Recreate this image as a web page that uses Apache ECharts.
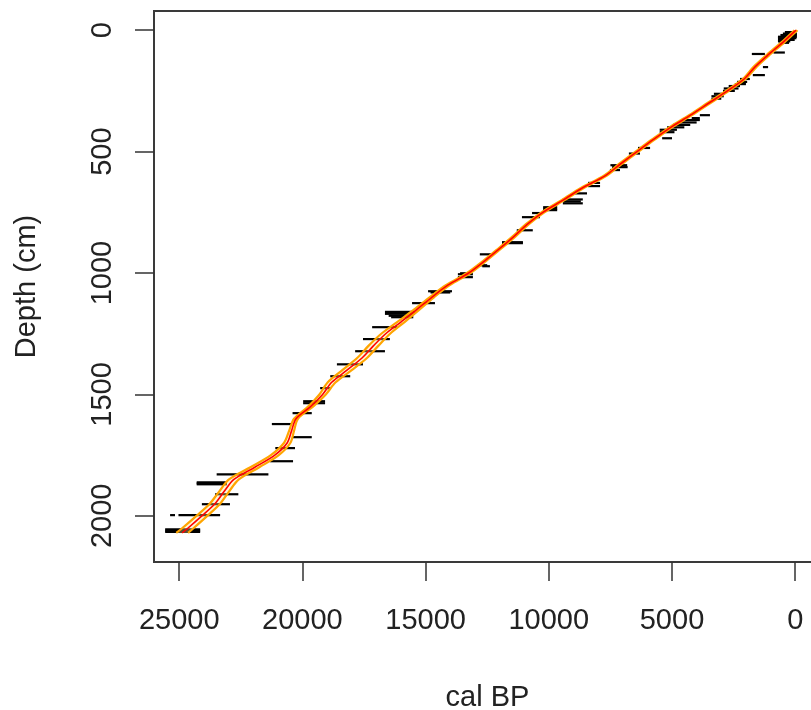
<!DOCTYPE html>
<html>
<head>
<meta charset="utf-8">
<script src="https://cdn.jsdelivr.net/npm/echarts@6/dist/echarts.min.js"></script>
<style>
html,body{margin:0;padding:0;background:#fff;}
#chart{width:811px;height:710px;}
</style>
</head>
<body>
<div id="chart"></div>
<script>
// Age-depth model (depth in cm, cal BP)
var modelDepth = [0,50,100,150,200,250,300,350,400,450,500,550,600,650,700,750,800,850,900,950,1000,1050,1100,1150,1200,1250,1300,1350,1400,1450,1500,1550,1600,1650,1700,1750,1800,1850,1900,1950,2000,2050,2070];
var modelAge = [-30,500,1080,1620,2060,2750,3500,4250,5050,5750,6420,7080,7720,8640,9420,10240,10880,11420,12000,12600,13250,14100,14750,15350,15980,16620,17120,17580,18190,18810,19180,19670,20260,20440,20620,21120,21930,22780,23180,23550,24080,24640,24880];
var modelMin = [-90,440,1020,1560,2000,2690,3440,4190,4990,5690,6360,7020,7660,8580,9360,10180,10820,11360,11940,12540,13180,14020,14660,15240,15830,16440,16920,17380,18000,18650,19050,19570,20180,20340,20490,20960,21750,22580,22980,23340,23860,24410,24640];
var modelMax = [30,560,1140,1680,2120,2810,3560,4310,5110,5810,6480,7140,7780,8700,9480,10300,10940,11480,12060,12660,13320,14180,14840,15460,16130,16800,17320,17780,18380,18970,19310,19770,20340,20540,20750,21280,22110,22980,23380,23760,24300,24870,25120];

// Calibrated date ranges (depth, from, to)
var dateDepth = [8,14,20,27,33,40,46,52,92,98,152,185,201,213,222,230,240,250,262,272,282,350,362,370,380,390,400,410,420,445,485,508,556,564,576,629,642,672,697,705,713,729,735,741,753,770,824,873,877,923,968,972,1001,1005,1017,1075,1080,1124,1160,1168,1176,1182,1223,1272,1322,1376,1425,1474,1528,1536,1577,1622,1676,1721,1775,1829,1862,1866,1870,1911,1952,1997,1997,2056,2061,2066];
var dateFrom = [0,-70,-70,-70,-50,20,200,250,420,1230,1100,1230,1840,1950,2000,2240,2300,2450,2860,2900,3000,3460,3870,3870,4000,4260,4500,4800,4900,5000,5890,6300,6820,6800,7110,7920,7920,8450,8620,8700,8620,9660,9660,9660,10360,10360,10650,11050,11050,12310,12500,12390,13200,13080,13080,13930,14000,14620,15430,15430,15600,15500,16150,16450,16650,17540,18060,18870,19080,19080,19620,20430,19620,20300,20380,21380,23070,23070,23070,22600,22940,23340,25170,24150,24150,24150];
var dateTo = [420,500,600,700,700,700,700,650,880,1760,1310,1720,2240,2360,2450,2700,2900,2930,3300,3400,3400,3870,4200,4560,4700,4960,5200,5500,5500,5400,6380,6750,7500,7430,7520,8410,8410,9020,9430,9400,9430,10230,10230,10230,10680,11090,11300,11900,11900,12800,12900,12700,13600,13690,13690,14900,14800,15550,16650,16650,16500,16400,17170,17540,17860,18600,18870,19280,19970,19970,20400,21240,20400,21100,21310,23480,24290,24290,24290,23540,24080,25030,25370,25570,25570,25570];

var xTicks = [0,5000,10000,15000,20000,25000];
var yTicks = [0,500,1000,1500,2000];

var chart = echarts.init(document.getElementById('chart'), null, {renderer:'canvas'});

var dateData = dateDepth.map(function(d,i){ return [dateFrom[i], dateTo[i], d]; });
var medianData = modelDepth.map(function(d,i){ return [modelAge[i], d]; });
var minData = modelDepth.map(function(d,i){ return [modelMin[i], d]; });
var maxData = modelDepth.map(function(d,i){ return [modelMax[i], d]; });
var bandData = modelDepth.map(function(d,i){ return [modelMin[i], modelMax[i], d]; });

var FONT = 'Liberation Sans, Arial, Helvetica, sans-serif';
var TXT = '#222';
function plain(v){ return String(v); }

chart.setOption({
  animation: false,
  backgroundColor: '#fff',
  grid: {left:154, top:11, width:667, height:551, show:true, borderColor:'#3a3a3a', borderWidth:2, backgroundColor:'transparent', outerBoundsMode:'none', containLabel:false},
  xAxis: {
    type:'value', inverse:true, min:-1047, max:26023,
    axisLine:{show:false, onZero:false},
    splitLine:{show:false},
    axisTick:{show:true, customValues:xTicks, length:19, lineStyle:{color:'#333', width:1.5}},
    axisLabel:{show:true, customValues:xTicks, formatter:plain, fontSize:29, fontFamily:FONT, color:TXT, margin:44},
    name:'cal BP', nameLocation:'middle', nameGap:121,
    nameTextStyle:{fontSize:29, fontFamily:FONT, color:TXT}
  },
  yAxis: {
    type:'value', inverse:true, min:-79, max:2190,
    axisLine:{show:false, onZero:false},
    splitLine:{show:false},
    axisTick:{show:true, customValues:yTicks, length:19, lineStyle:{color:'#333', width:1.5}},
    axisLabel:{show:true, customValues:yTicks, formatter:plain, rotate:90, fontSize:29, fontFamily:FONT, color:TXT, margin:37},
    name:'Depth (cm)', nameLocation:'middle', nameGap:113,
    nameTextStyle:{fontSize:29, fontFamily:FONT, color:TXT}
  },
  series: [
    {
      type:'custom', name:'dates', data:dateData,
      encode:{x:[0,1], y:2},
      renderItem:function(params, api){
        var p1 = api.coord([api.value(0), api.value(2)]);
        var p2 = api.coord([api.value(1), api.value(2)]);
        return {type:'line', shape:{x1:p1[0], y1:p1[1], x2:p2[0], y2:p2[1]},
                style:{stroke:'#000', lineWidth:2.2}};
      },
      z:2
    },
    {
      type:'custom', name:'band', data:[0],
      renderItem:function(params, api){
        var pts = [];
        for (var i=0;i<bandData.length;i++) pts.push(api.coord([bandData[i][0], bandData[i][2]]));
        for (var j=bandData.length-1;j>=0;j--) pts.push(api.coord([bandData[j][1], bandData[j][2]]));
        return {type:'polygon', shape:{points:pts, smooth:0.3}, style:{fill:'rgba(255,230,150,0.35)', stroke:null}};
      },
      z:3, silent:true
    },
    {type:'line', data:minData, smooth:0.3, symbol:'none', lineStyle:{color:'#FFA500', width:2.2}, z:4},
    {type:'line', data:maxData, smooth:0.3, symbol:'none', lineStyle:{color:'#FFA500', width:2.2}, z:4},
    {type:'line', data:medianData, smooth:0.3, symbol:'none', lineStyle:{color:'#FF0000', width:1.6}, z:5}
  ]
});
</script>
</body>
</html>
